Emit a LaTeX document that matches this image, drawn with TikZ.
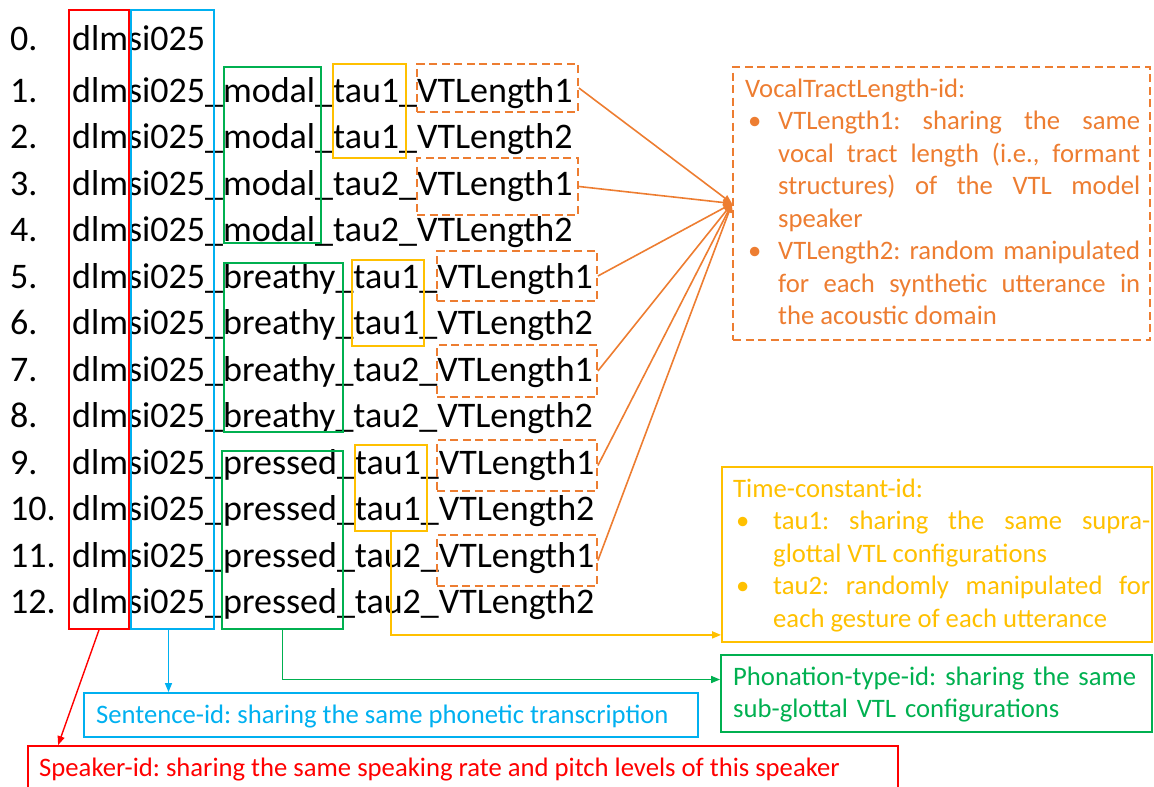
\documentclass[tikz,border=0pt]{standalone}
\usepackage{fontspec}
\setmainfont{Carlito}
\usetikzlibrary{fit,arrows.meta}
\definecolor{cred}{RGB}{255,0,0}
\definecolor{cblue}{RGB}{0,176,240}
\definecolor{cgreen}{RGB}{0,176,80}
\definecolor{cyellow}{RGB}{255,192,0}
\definecolor{corange}{RGB}{237,125,49}
\tolerance=9999
\hbadness=10000
\frenchspacing
% bulleted paragraph with a hanging indent of #1
\newcommand\bitem[2]{\par\hangindent=#1\hangafter=0\noindent\llap{\makebox[#1][l]{\hspace{3pt}\textbullet}}#2\par}
\begin{document}
\begin{tikzpicture}[x=1pt,y=-1pt,
  listtext/.style={anchor=base west, inner sep=0pt, font=\fontsize{36}{40}\selectfont},
  descr/.style={anchor=base west, inner sep=0pt, font=\fontsize{26.67}{32.5}\selectfont},
  frame/.style={draw, line width=1.8pt, inner sep=0pt},
  redframe/.style={frame, draw=cred},
  blueframe/.style={frame, draw=cblue},
  greenframe/.style={frame, draw=cgreen},
  yellowframe/.style={frame, draw=cyellow},
  vtlframe/.style={frame, draw=corange, dash pattern=on 8pt off 4.5pt},
  link/.style={line width=1.6pt, -{Triangle[length=9pt,width=7pt]}},
]
\useasboundingbox (0,0) rectangle (1154,787);
\clip (0,0) rectangle (1154,787);

% item numbers
\node[listtext] (n0)  at (10,50)    {0.};
\node[listtext] (n1)  at (10,102)   {1.};
\node[listtext] (n2)  at (10,148.5) {2.};
\node[listtext] (n3)  at (10,195)   {3.};
\node[listtext] (n4)  at (10,241.5) {4.};
\node[listtext] (n5)  at (10,288)   {5.};
\node[listtext] (n6)  at (10,334.5) {6.};
\node[listtext] (n7)  at (10,381)   {7.};
\node[listtext] (n8)  at (10,427.5) {8.};
\node[listtext] (n9)  at (10,474)   {9.};
\node[listtext] (n10) at (10,520.5) {10.};
\node[listtext] (n11) at (10,567)   {11.};
\node[listtext] (n12) at (10,613.5) {12.};

% file names
\node[listtext] (r0)  at (72,50)    {dlmsi025};
\node[listtext] (r1)  at (72,102)   {dlmsi025\_modal\_tau1\_VTLength1};
\node[listtext] (r2)  at (72,148.5) {dlmsi025\_modal\_tau1\_VTLength2};
\node[listtext] (r3)  at (72,195)   {dlmsi025\_modal\_tau2\_VTLength1};
\node[listtext] (r4)  at (72,241.5) {dlmsi025\_modal\_tau2\_VTLength2};
\node[listtext] (r5)  at (72,288)   {dlmsi025\_breathy\_tau1\_VTLength1};
\node[listtext] (r6)  at (72,334.5) {dlmsi025\_breathy\_tau1\_VTLength2};
\node[listtext] (r7)  at (72,381)   {dlmsi025\_breathy\_tau2\_VTLength1};
\node[listtext] (r8)  at (72,427.5) {dlmsi025\_breathy\_tau2\_VTLength2};
\node[listtext] (r9)  at (72,474)   {dlmsi025\_pressed\_tau1\_VTLength1};
\node[listtext] (r10) at (72,520.5) {dlmsi025\_pressed\_tau1\_VTLength2};
\node[listtext] (r11) at (72,567)   {dlmsi025\_pressed\_tau2\_VTLength1};
\node[listtext] (r12) at (72,613.5) {dlmsi025\_pressed\_tau2\_VTLength2};

% column frames
\node[redframe,  fit={(69,10) (129,629)}]  (spkcol)  {};
\node[blueframe, fit={(131,10) (214,629)}] (sentcol) {};

% phonation-type frames
\node[greenframe, fit={(224,67) (321,243)}]  (phon1) {};
\node[greenframe, fit={(224,263) (343,432)}] (phon2) {};
\node[greenframe, fit={(222,451) (343,629)}] (phon3) {};

% time-constant frames
\node[yellowframe, fit={(333,64) (406,158)}]  (tau1) {};
\node[yellowframe, fit={(352,260) (424,346)}] (tau2) {};
\node[yellowframe, fit={(355,445) (427,531)}] (tau3) {};

% vocal-tract-length frames
\node[vtlframe, fit={(417,64) (578,112)}]  (vl1) {};
\node[vtlframe, fit={(417,158) (578,215)}] (vl2) {};
\node[vtlframe, fit={(437,251) (597,301)}] (vl3) {};
\node[vtlframe, fit={(437,345) (597,397)}] (vl4) {};
\node[vtlframe, fit={(437,440) (597,491)}] (vl5) {};
\node[vtlframe, fit={(437,535) (597,586)}] (vl6) {};

% description boxes
\node[vtlframe,    fit={(733,67) (1150,340)}]  (vtl)  {};
\node[yellowframe, fit={(722,467) (1152,642)}] (time) {};
\node[greenframe,  fit={(721,655) (1152,732)}] (phon) {};
\node[blueframe,   fit={(84,693) (698,737)}]   (sent) {};
\node[redframe,    fit={(28,746) (898,800)}]   (spk)  {};

\node[descr, text=corange, text width=395pt, align=justify] (vtltext) at (745,97)
  {VocalTractLength-id:%
   \bitem{33pt}{VTLength1: sharing the same\linebreak vocal tract length (i.e., formant\linebreak structures) of the VTL model\linebreak speaker}%
   \bitem{33pt}{VTLength2: random manipulated\linebreak for each synthetic utterance in\linebreak the acoustic domain}};

\node[descr, text=cyellow, text width=417pt, align=justify] (timetext) at (733,497)
  {Time-constant-id:%
   \bitem{40pt}{tau1: sharing the same supra-\linebreak glottal VTL configurations}%
   \bitem{40pt}{tau2: randomly manipulated for\linebreak each gesture of each utterance}};

\node[descr, text=cgreen, text width=410pt, align=left] (phontext) at (733,685)
  {Phonation-type-id: sharing the same\\sub-glottal VTL configurations};

\node[descr, text=cblue] (senttext) at (96,723)
  {Sentence-id: sharing the same phonetic transcription};

\node[descr, text=cred] (spktext) at (39,776)
  {Speaker-id: sharing the same speaking rate and pitch levels of this speaker};

% connectors
\foreach \v in {vl1,vl2,vl3,vl4,vl5,vl6}
  \draw[link, corange] (\v.east) -- (vtl.west);
\draw[link, cyellow] (tau3.south) |- ([yshift=8pt]time.south west);
\draw[link, cgreen] (phon3.south) |- ([yshift=14pt]phon.west);
\draw[link, cblue, line width=1.4pt] ([xshift=-4pt]sentcol.south) -- ([xshift=-4pt]sentcol.south |- sent.north);
\draw[link, cred, line width=1.4pt] (spkcol.south) -- ([xshift=31pt]spk.north west);
\end{tikzpicture}
\end{document}
